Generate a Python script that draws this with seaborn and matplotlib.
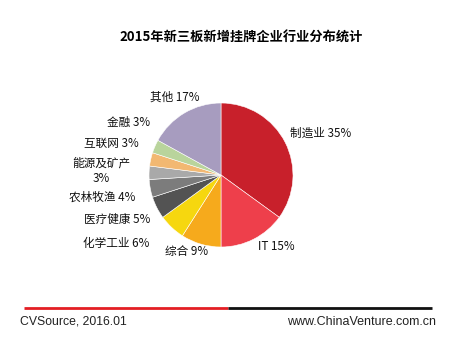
import matplotlib
matplotlib.use("Agg")
import matplotlib.pyplot as plt
import seaborn as sns

sns.set_theme(style="white")
plt.rcParams['font.family'] = ['Noto Sans CJK SC', 'DejaVu Sans']

title = "2015年新三板新增挂牌企业行业分布统计"
categories = ["制造业", "IT", "综合", "化学工业", "医疗健康", "农林牧渔", "能源及矿产", "互联网", "金融", "其他"]
values = [35, 15, 9, 6, 5, 4, 3, 3, 3, 17]
label_texts = ["制造业 35%", "IT 15%", "综合 9%", "化学工业 6%", "医疗健康 5%", "农林牧渔 4%",
               "能源及矿产\n3%", "互联网 3%", "金融 3%", "其他 17%"]
colors = ["#C8202B", "#EE3F4B", "#F6AA1C", "#F6D70F", "#535353", "#7C7C7C",
          "#A9A9A9", "#F2B872", "#B9D49C", "#A79CBF"]
source = "CVSource, 2016.01"
site = "www.ChinaVenture.com.cn"

W, H = 455, 344
fig = plt.figure(figsize=(W / 100, H / 100), dpi=100)
fig.patch.set_facecolor("white")
ax = fig.add_axes([0, 0, 1, 1])

cx, cy, r = 221, H - 175, 72
ax.pie(values, colors=colors, startangle=90, counterclock=False,
       center=(cx, cy), radius=r, frame=True,
       wedgeprops=dict(linewidth=0.4, edgecolor="white"))
ax.set_xlim(0, W)
ax.set_ylim(0, H)
ax.set_aspect("equal")
ax.axis("off")

# label positions (pixel coords, top-origin) and alignment
pos = [(290, 133, "left"), (258, 247, "left"), (165, 251, "left"),
       (149, 244, "right"), (150, 219, "right"), (135, 197, "right"),
       (101, 171, "center"), (139, 143, "right"), (150, 122, "right"),
       (175, 97, "center")]
for t, (x, y, ha) in zip(label_texts, pos):
    ax.text(x, H - y, t, ha=ha, va="center", fontsize=8.4, color="#111111",
            linespacing=1.3)

ax.text(241, H - 38, title, ha="center", va="center", fontsize=9.5,
        fontweight="bold", color="#000000")

ax.plot([24, 228], [H - 308, H - 308], color="#E31E24", lw=2, solid_capstyle="butt")
ax.plot([228, 432], [H - 308, H - 308], color="#111111", lw=2, solid_capstyle="butt")
ax.text(20, H - 322, source, ha="left", va="center", fontsize=8.8,
        family=["Liberation Sans", "DejaVu Sans"], color="#222222")
ax.text(436, H - 322, site, ha="right", va="center", fontsize=9.0,
        family=["Liberation Sans", "DejaVu Sans"], color="#222222")

fig.savefig("out.png", dpi=100, facecolor="white")
